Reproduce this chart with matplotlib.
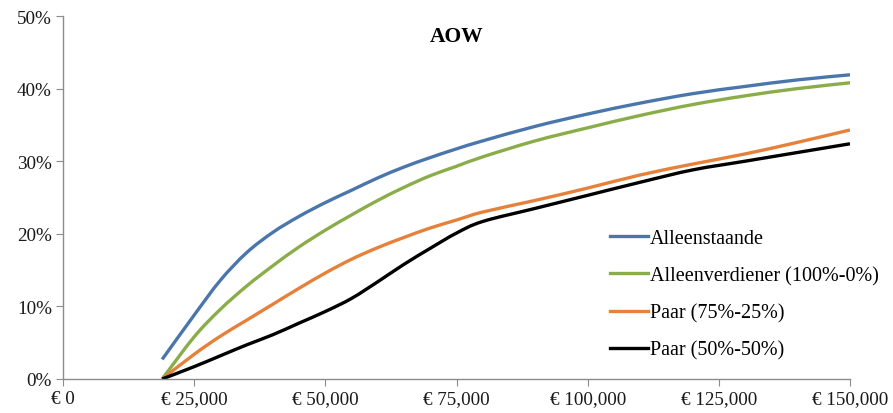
import numpy as np
import matplotlib.pyplot as plt
from matplotlib.ticker import FuncFormatter
from matplotlib.path import Path
from matplotlib.patches import PathPatch
from matplotlib.lines import Line2D

# inkomen (euro)
income = [18900, 25000, 30000, 35000, 40000, 45000, 50000, 55000, 60000, 65000,
          70000, 75000, 80000, 90000, 100000, 110000, 120000, 130000, 140000, 150000]

# percentages per huishoudtype
alleenstaande = [2.7, 8.8, 13.6, 17.4, 20.2, 22.4, 24.3, 26.0, 27.7, 29.2,
                 30.5, 31.7, 32.8, 34.8, 36.5, 38.0, 39.3, 40.3, 41.2, 41.9]
alleenverdiener = [0.0, 5.8, 9.6, 12.8, 15.6, 18.2, 20.5, 22.6, 24.6, 26.4,
                   28.0, 29.3, 30.6, 32.8, 34.6, 36.3, 37.8, 39.0, 40.0, 40.8]
paar_75_25 = [0.0, 3.4, 5.9, 8.1, 10.3, 12.5, 14.6, 16.5, 18.1, 19.5,
              20.8, 21.9, 23.0, 24.6, 26.3, 28.1, 29.6, 31.0, 32.6, 34.3]
paar_50_50 = [0.0, 1.7, 3.2, 4.7, 6.1, 7.7, 9.3, 11.1, 13.4, 15.8,
              18.0, 20.1, 21.7, 23.5, 25.3, 27.1, 28.8, 30.0, 31.2, 32.4]

series = [
    ("Alleenstaande", alleenstaande, "#4a76ac"),
    ("Alleenverdiener (100%-0%)", alleenverdiener, "#8aad4a"),
    ("Paar (75%-25%)", paar_75_25, "#e5813a"),
    ("Paar (50%-50%)", paar_50_50, "#000000"),
]

x_ticks = [0, 25000, 50000, 75000, 100000, 125000, 150000]
y_ticks = [0, 0.1, 0.2, 0.3, 0.4, 0.5]


def smooth_path(xs, ys):
    # Excel-style smoothed line: Catmull-Rom segments as cubic beziers
    p = np.column_stack([xs, ys]).astype(float)
    n = len(p)
    verts = [p[0]]
    codes = [Path.MOVETO]
    for i in range(n - 1):
        p0 = p[i - 1] if i > 0 else p[i]
        p3 = p[i + 2] if i + 2 < n else p[i + 1]
        c1 = p[i] + (p[i + 1] - p0) / 6
        c2 = p[i + 1] - (p3 - p[i]) / 6
        verts += [c1, c2, p[i + 1]]
        codes += [Path.CURVE4] * 3
    return Path(verts, codes)


plt.rcParams['font.family'] = ['Liberation Serif', 'DejaVu Serif']

fig = plt.figure(figsize=(8.93, 4.14), dpi=100)
ax = fig.add_axes([63/893, 1 - 380/414, 787/893, 363/414])

handles = []
for name, vals, col in series:
    path = smooth_path(income, np.array(vals) / 100)
    ax.add_patch(PathPatch(path, fill=False, edgecolor=col, lw=2.4,
                           capstyle='butt', transform=ax.transData))
    handles.append(Line2D([], [], color=col, lw=2.4, label=name))

ax.set_xlim(0, 150000)
ax.set_ylim(0, 0.5)
ax.set_xticks(x_ticks)
ax.set_yticks(y_ticks)
ax.xaxis.set_major_formatter(FuncFormatter(lambda v, p: "€ {:,.0f}".format(v)))
ax.yaxis.set_major_formatter(FuncFormatter(lambda v, p: "{:.0f}%".format(v * 100)))

for s in ['top', 'right']:
    ax.spines[s].set_visible(False)
for s in ['left', 'bottom']:
    ax.spines[s].set_color('#8c8c8c')
    ax.spines[s].set_linewidth(1.0)
ax.tick_params(axis='both', colors='#8c8c8c', labelcolor='#1a1a1a',
               labelsize=13.8, length=5, direction='out')
ax.tick_params(axis='x', pad=3)
ax.tick_params(axis='y', pad=3)

ax.text(0.5, 0.945, "AOW", transform=ax.transAxes, ha='center', va='center',
        fontsize=15.5, fontweight='bold')

ax.legend(handles=handles, loc='upper left', bbox_to_anchor=(0.695, 0.414),
          frameon=False, fontsize=14.5, handlelength=1.9, handletextpad=0.1,
          labelspacing=0.9, borderpad=0, borderaxespad=0)

fig.savefig("out.png", dpi=100)
